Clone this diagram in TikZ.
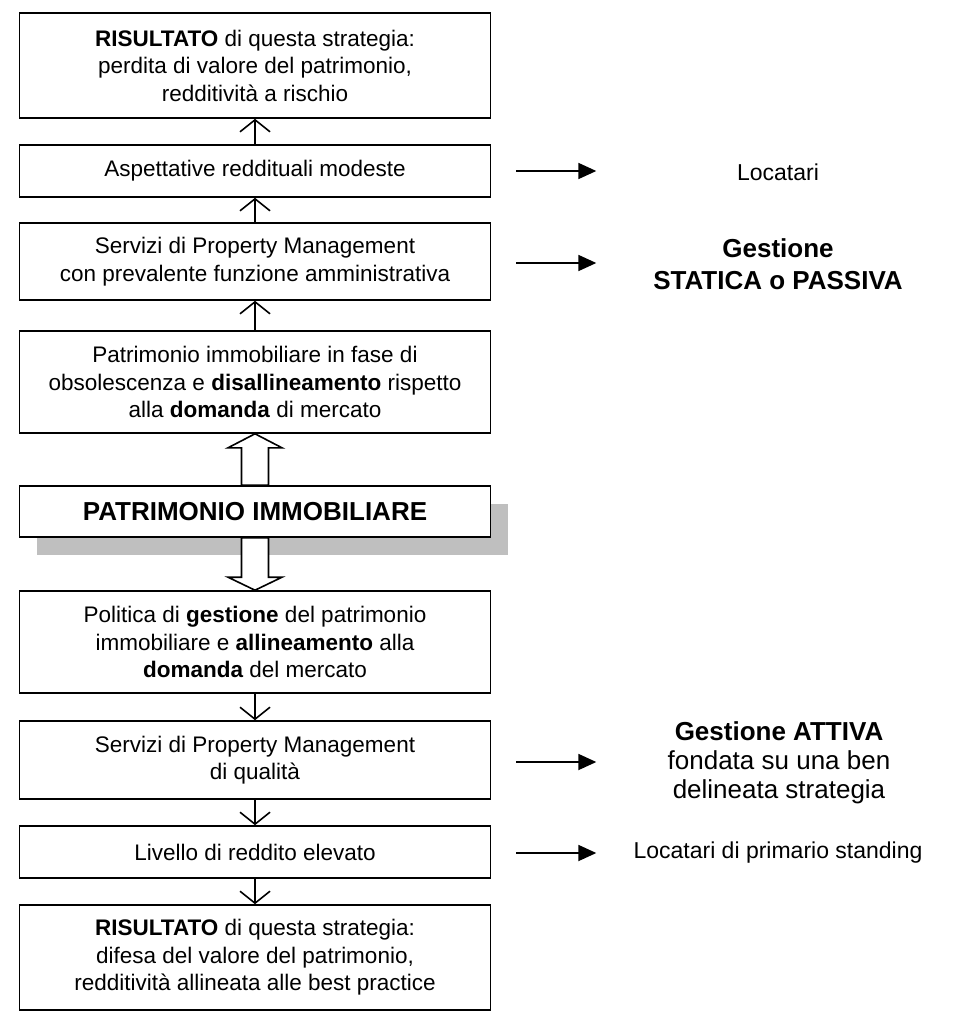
\documentclass[tikz,border=0pt]{standalone}
\usepackage{fontspec}
\setmainfont{Liberation Sans}
\usetikzlibrary{arrows.meta,calc}
\begin{document}
\begin{tikzpicture}[x=1pt,y=-1pt,
  box/.style={draw,line width=1.6pt,fill=white,minimum width=471pt,align=center,
    font=\fontsize{22.5}{27.5}\selectfont,inner sep=0pt},
  up/.style={line width=1.6pt,-{Straight Barb[length=12pt,width=30pt,line width=1.6pt]}},
  side/.style={line width=1.8pt,-{Triangle[length=18pt,width=16pt]}},
  hollow/.style={draw,line width=1.6pt,fill=white,line join=miter},
  rtext/.style={align=center,font=\fontsize{23}{27}\selectfont},
  btext/.style={align=center,font=\fontsize{26}{30}\selectfont}]
\useasboundingbox (0,0) rectangle (963,1024);
\node[box,minimum height=105pt] (b1) at (255,65.5) {\textbf{RISULTATO} di questa strategia:\\perdita di valore del patrimonio,\\redditività a rischio};
\node[box,minimum height=52pt] (b2) at (255,171) {Aspettative reddituali modeste};
\node[box,minimum height=77pt] (b3) at (255,261.5) {Servizi di Property Management\\con prevalente funzione amministrativa};
\node[box,minimum height=102pt] (b4) at (255,382) {Patrimonio immobiliare in fase di\\obsolescenza e \textbf{disallineamento} rispetto\\alla \textbf{domanda} di mercato};
\fill[black!25] (37,504) rectangle (508,555);
\node[box,minimum height=51pt,font=\fontsize{26}{30}\selectfont\bfseries] (b5) at (255,511.5) {PATRIMONIO IMMOBILIARE};
\node[box,minimum height=102pt] (b6) at (255,642) {Politica di \textbf{gestione} del patrimonio\\immobiliare e \textbf{allineamento} alla\\\textbf{domanda} del mercato};
\node[box,minimum height=78pt] (b7) at (255,760) {Servizi di Property Management\\di qualità};
\node[box,minimum height=52pt] (b8) at (255,852) {Livello di reddito elevato};
\node[box,minimum height=105pt] (b9) at (255,957.5) {\textbf{RISULTATO} di questa strategia:\\difesa del valore del patrimonio,\\redditività allineata alle best practice};
% small arrows
\draw[up] (b2.north) -- (b1.south);
\draw[up] (b3.north) -- (b2.south);
\draw[up] (b4.north) -- (b3.south);
\draw[up] (b6.south) -- (b7.north);
\draw[up] (b7.south) -- (b8.north);
\draw[up] (b8.south) -- (b9.north);
% hollow arrows
\draw[hollow] (b4.south) -- ($(b4.south)+(27,14)$) -- ($(b4.south)+(13.5,14)$) -- ($(b5.north)+(13.5,0)$) -- ($(b5.north)+(-13.5,0)$) -- ($(b4.south)+(-13.5,14)$) -- ($(b4.south)+(-27,14)$) -- cycle;
\draw[hollow] (b6.north) -- ($(b6.north)+(27,-13)$) -- ($(b6.north)+(13.5,-13)$) -- ($(b5.south)+(13.5,0)$) -- ($(b5.south)+(-13.5,0)$) -- ($(b6.north)+(-13.5,-13)$) -- ($(b6.north)+(-27,-13)$) -- cycle;
% side arrows
\coordinate (s2) at ($(b2.east)+(25,0)$);
\coordinate (e2) at ($(b2.east)+(105,0)$);
\coordinate (s3) at ($(b3.east)+(25,1.5)$);
\coordinate (e3) at ($(b3.east)+(105,1.5)$);
\coordinate (s7) at ($(b7.east)+(25,2)$);
\coordinate (e7) at ($(b7.east)+(105,2)$);
\coordinate (s8) at ($(b8.east)+(25,1)$);
\coordinate (e8) at ($(b8.east)+(105,1)$);
\draw[side] (s2) -- (e2);
\draw[side] (s3) -- (e3);
\draw[side] (s7) -- (e7);
\draw[side] (s8) -- (e8);
% right texts
\node[rtext] (t2) at (778,172) {Locatari};
\node[btext,font=\fontsize{26}{32}\selectfont\bfseries] (t3) at (778,264) {Gestione\\STATICA o PASSIVA};
\node[btext,font=\fontsize{26}{29}\selectfont] (t7) at (779,763) {\textbf{Gestione ATTIVA}\\fondata su una ben\\delineata strategia};
\node[rtext] (t8) at (778,853) {Locatari di primario standing};
\end{tikzpicture}
\end{document}
